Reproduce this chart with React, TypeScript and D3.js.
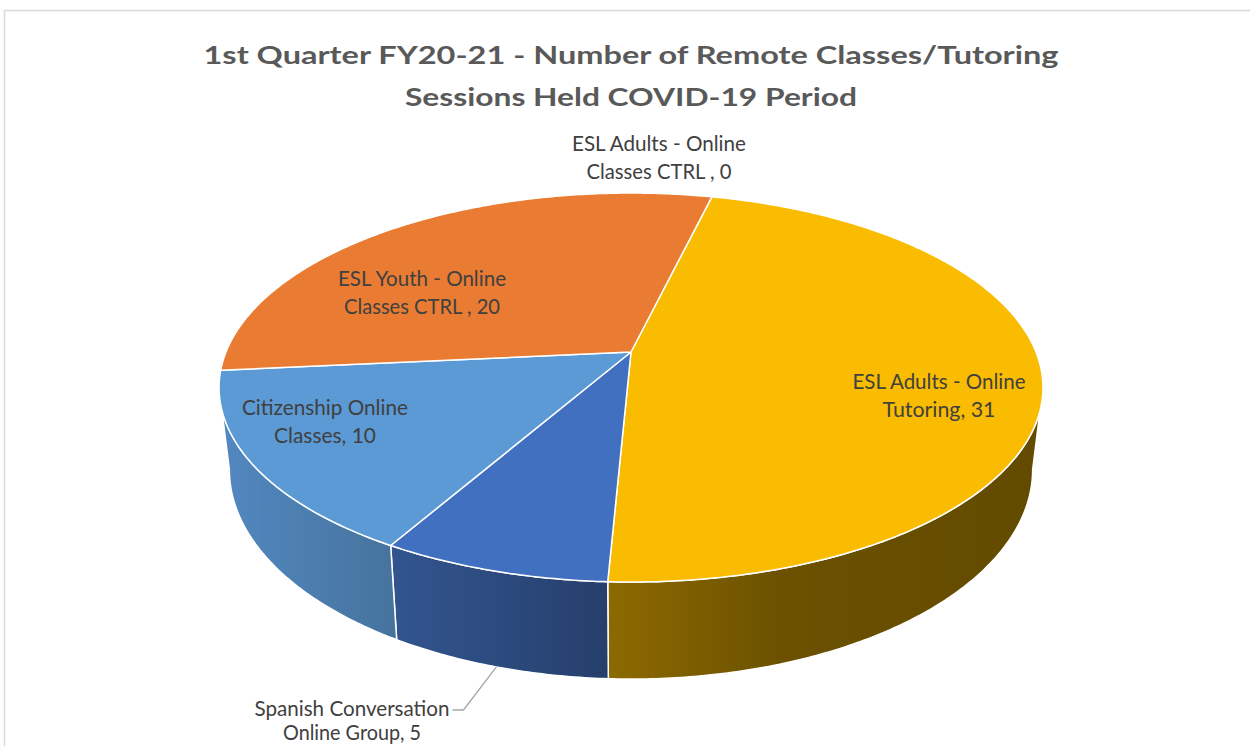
import React from 'react';
import * as d3 from 'd3';

// chart data
const categories = [
  'ESL Adults - Online Classes CTRL',
  'ESL Adults - Online Tutoring',
  'Spanish Conversation Online Group',
  'Citizenship Online Classes',
  'ESL Youth - Online Classes CTRL',
];
const values = [0, 31, 5, 10, 20];
const labelLines = [
  ['ESL Adults - Online', 'Classes CTRL , 0'],
  ['ESL Adults - Online', 'Tutoring, 31'],
  ['Spanish Conversation', 'Online Group, 5'],
  ['Citizenship Online', 'Classes, 10'],
  ['ESL Youth - Online', 'Classes CTRL , 20'],
];
const titleLines = [
  '1st Quarter FY20-21 - Number of Remote Classes/Tutoring',
  'Sessions Held COVID-19 Period',
];

const topColors = ['#A5A5A5', '#F9BC00', '#4270C0', '#5B9AD5', '#E97C32'];
const sideColors = [
  ['#777', '#555'],
  ['#8D6A00', '#624A00'],
  ['#32558F', '#263F6C'],
  ['#5288C1', '#46739D'],
  ['#A85A24', '#7A4019'],
];

// label layout (center x, first baseline, line gap, text widths)
const labelLayout = [
  { x: 659, y: 151, gap: 28, w: [174, 145] },
  { x: 939, y: 389, gap: 28, w: [173, 113] },
  { x: 352, y: 716, gap: 24, w: [195, 138] },
  { x: 325, y: 415, gap: 28, w: [166, 102] },
  { x: 422, y: 286, gap: 28, w: [168, 156] },
];

// perspective pie geometry
const cx = 631;
const cy = 352;
const A = 405;
const B = 188;
const K = -0.1827;
const D0 = 79.3;
const S = 0.975;
const startAngle = (13.6 * Math.PI) / 180;

function proj(a: number, r = 1, bottom = false): [number, number] {
  const u = r * Math.sin(a);
  const v = -r * Math.cos(a);
  const den = 1 + K * v;
  const x = cx + ((bottom ? S : 1) * A * u) / den;
  const y = cy + (B * v) / den + (bottom ? D0 / den : 0);
  return [x, y];
}

function arcPoints(a0: number, a1: number, bottom = false) {
  const n = Math.max(2, Math.ceil(Math.abs(a1 - a0) / 0.01));
  return d3.range(n + 1).map(i => proj(a0 + ((a1 - a0) * i) / n, 1, bottom));
}

const line = d3.line();

const App = () => {
  const arcs = d3.pie<number>().sort(null).startAngle(startAngle).endAngle(startAngle + 2 * Math.PI)(values);

  // visible front range of the side wall
  const thR = Math.PI - Math.acos(-K);
  const thL = Math.PI + Math.acos(-K);

  const sides = arcs.map((d, i) => {
    const a0 = Math.max(d.startAngle, thR);
    const a1 = Math.min(d.endAngle, thL);
    if (a1 <= a0) return null;
    const pts = [...arcPoints(a0, a1), ...arcPoints(a1, a0, true)];
    return { i, path: line(pts) + 'Z' };
  });

  const tops = arcs.map((d, i) => {
    if (d.endAngle - d.startAngle <= 0) return null;
    const pts = [[cx, cy] as [number, number], ...arcPoints(d.startAngle, d.endAngle)];
    return { i, path: line(pts) + 'Z' };
  });

  // leader for the Spanish label
  const sp = arcs[2];
  const leaderEnd = proj((sp.startAngle + sp.endAngle) / 2, 1, true);
  const lab = labelLayout[2];
  const leader = line([
    [lab.x + lab.w[0] / 2 + 3, lab.y - 6],
    [lab.x + lab.w[0] / 2 + 14, lab.y - 6],
    leaderEnd,
  ]);

  return (
    <div style={{ position: 'absolute', left: 0, top: 0, width: 1250, height: 746, background: '#fff' }}>
      <svg width={1250} height={746} style={{ display: 'block' }}>
        <defs>
          {sideColors.map((c, i) => (
            <linearGradient key={i} id={`side${i}`} x1="0" x2="1" y1="0" y2="0">
              <stop offset="0" stopColor={c[0]} />
              <stop offset={i === 1 ? 0.4 : 1} stopColor={i === 1 ? '#6B5100' : c[1]} />
              <stop offset="1" stopColor={c[1]} />
            </linearGradient>
          ))}
        </defs>
        <rect x={4.5} y={10.5} width={1300} height={800} fill="#fff" stroke="#D9D9D9" strokeWidth={1.5} />

        {titleLines.map((t, i) => (
          <text
            key={i}
            x={631}
            y={64 + i * 42}
            textAnchor="middle"
            fill="#595959"
            fontFamily="Lato, 'Open Sans', sans-serif"
            fontWeight="bold"
            fontSize={24}
            textLength={i === 0 ? 855 : 452}
            lengthAdjust="spacingAndGlyphs"
          >
            {t}
          </text>
        ))}

        <g>
          {sides.map(s => s && (
            <path key={s.i} d={s.path} fill={`url(#side${s.i})`} stroke="#fff" strokeWidth={1.5} strokeLinejoin="round" />
          ))}
          {tops.map(s => s && (
            <path key={s.i} d={s.path} fill={topColors[s.i]} stroke="#fff" strokeWidth={1.5} strokeLinejoin="round" />
          ))}
        </g>

        <path d={leader ?? ''} fill="none" stroke="#A6A6A6" strokeWidth={1.3} />

        {labelLines.map((lines, i) => (
          <text
            key={categories[i]}
            fill="#404040"
            fontFamily="Lato, 'Open Sans', sans-serif"
            fontSize={21}
            textAnchor="middle"
          >
            {lines.map((l, j) => (
              <tspan
                key={j}
                x={labelLayout[i].x}
                y={labelLayout[i].y + j * labelLayout[i].gap}
                textLength={labelLayout[i].w[j]}
                lengthAdjust="spacingAndGlyphs"
              >
                {l}
              </tspan>
            ))}
          </text>
        ))}
      </svg>
    </div>
  );
};

export default App;
